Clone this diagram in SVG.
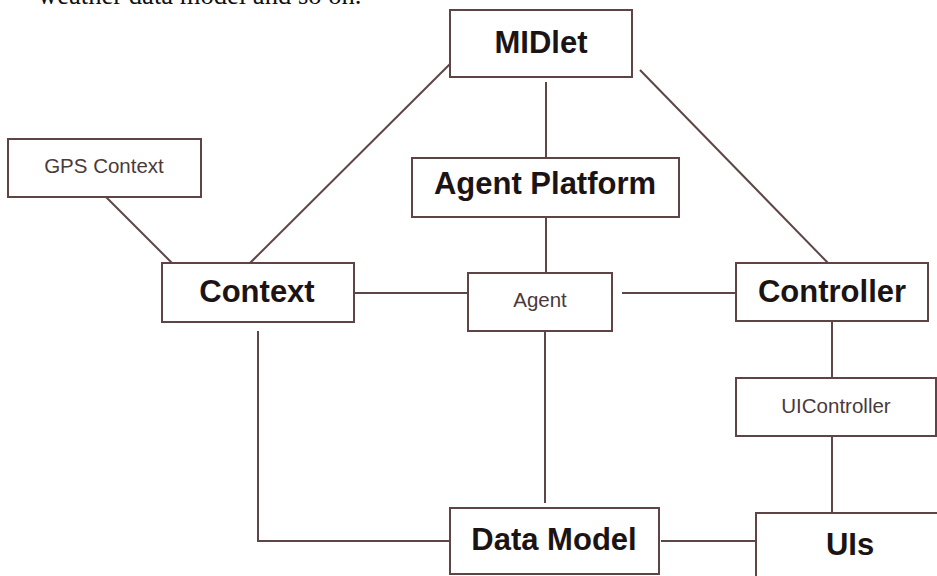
<svg xmlns="http://www.w3.org/2000/svg" width="937" height="576" viewBox="0 0 937 576">
<style>
.box{fill:#fff;stroke:#5e4444;stroke-width:2}
.ln{stroke:#5e4646;stroke-width:2;fill:none}
.big{font-family:"Liberation Sans",Arial,sans-serif;font-weight:bold;font-size:31px;fill:#1c1414;text-anchor:middle}
.small{font-family:"Liberation Sans",Arial,sans-serif;font-size:20.5px;fill:#4a3a3a;text-anchor:middle}
.top{font-family:"Liberation Serif","Times New Roman",serif;font-size:26.6px;fill:#111}
</style>
<rect width="937" height="576" fill="#fff"/>
<text class="top" x="38" y="4">weather data model and so on.</text>
<g id="connectors">
<line class="ln" x1="546" y1="82" x2="546" y2="158"/>
<line class="ln" x1="546" y1="217" x2="546" y2="273"/>
<line class="ln" x1="450" y1="64" x2="249" y2="264"/>
<line class="ln" x1="640" y1="70" x2="828" y2="263"/>
<line class="ln" x1="106" y1="197" x2="173" y2="264"/>
<line class="ln" x1="354" y1="293" x2="468" y2="293"/>
<line class="ln" x1="622" y1="293" x2="736" y2="293"/>
<line class="ln" x1="832" y1="321" x2="832" y2="378"/>
<line class="ln" x1="832" y1="436" x2="832" y2="513"/>
<line class="ln" x1="545" y1="331" x2="545" y2="503"/>
<polyline class="ln" points="258,331 258,541 450,541"/>
<line class="ln" x1="661" y1="541" x2="756" y2="541"/>
</g>
<g id="midlet"><rect class="box" x="450" y="10" width="182" height="67"/><text class="big" x="541" y="53">MIDlet</text></g>
<g id="agent-platform"><rect class="box" x="412" y="158" width="267" height="59"/><text class="big" x="545" y="194">Agent Platform</text></g>
<g id="gps-context"><rect class="box" x="8" y="139" width="193" height="58"/><text class="small" x="104" y="173">GPS Context</text></g>
<g id="context"><rect class="box" x="162" y="263" width="192" height="59"/><text class="big" x="257" y="302">Context</text></g>
<g id="agent"><rect class="box" x="468" y="273" width="144" height="58"/><text class="small" x="540" y="307">Agent</text></g>
<g id="controller"><rect class="box" x="736" y="263" width="192" height="58"/><text class="big" x="832" y="302">Controller</text></g>
<g id="uicontroller"><rect class="box" x="736" y="378" width="200" height="58"/><text class="small" x="836" y="413">UIController</text></g>
<g id="data-model"><rect class="box" x="450" y="508" width="209" height="66"/><text class="big" x="554" y="550">Data Model</text></g>
<g id="uis"><rect class="box" x="756" y="513" width="200" height="80"/><text class="big" x="850" y="555">UIs</text></g>
</svg>
